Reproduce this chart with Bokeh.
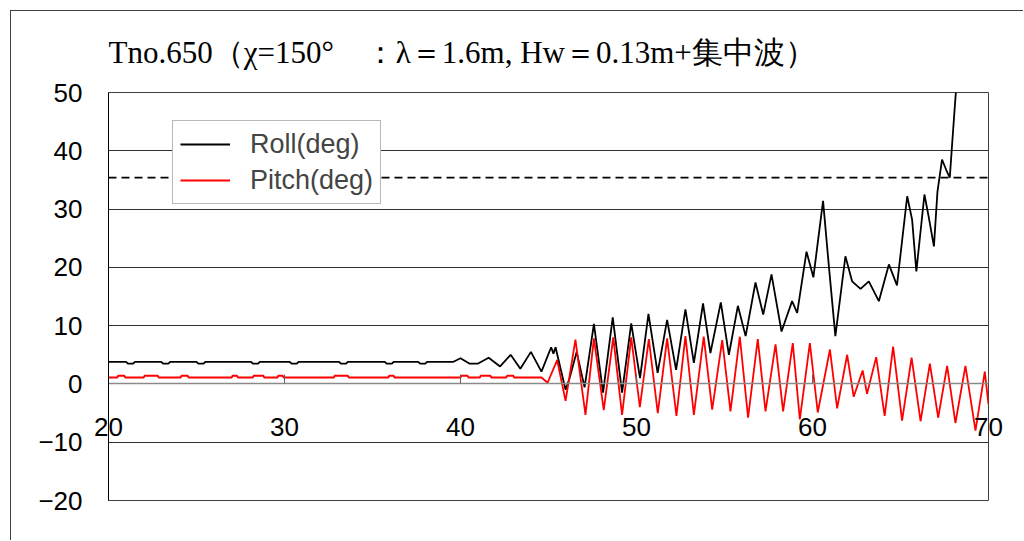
from bokeh.plotting import figure
from bokeh.models import Span, Range1d, FixedTicker, LinearAxis, Title
from bokeh.embed import file_html
from bokeh.resources import INLINE

# ---------------- data ----------------
title_text = "Tno.650（χ=150°　：λ＝1.6m, Hw＝0.13m+集中波）"
series_names = ["Roll(deg)", "Pitch(deg)"]
x_ticks = [20, 30, 40, 50, 60, 70]
y_ticks = [-20, -10, 0, 10, 20, 30, 40, 50]
y_tick_labels = ["−20", "−10", "0", "10", "20", "30", "40", "50"]
threshold = 35.4

roll_t = [20.0, 21.0, 21.1, 21.4, 21.5, 23.0, 23.1, 23.4, 23.5, 25.0, 25.1, 25.4, 25.5,
          28.1, 28.2, 28.5, 28.6, 30.3, 30.4, 30.7, 30.8, 33.1, 33.2, 33.5, 33.6,
          35.7, 35.8, 36.1, 36.2, 37.6, 37.7, 38.0, 38.1, 39.6,
          40.0, 40.5, 41.0, 41.6, 42.25, 42.85, 43.4, 44.0, 44.6, 45.15, 45.28, 45.4,
          45.97, 46.2, 46.6, 47.05, 47.58, 48.1, 48.65, 49.18, 49.7, 50.2, 50.68,
          51.2, 51.74, 52.25, 52.78, 53.26, 53.78, 54.2, 54.79, 55.25, 55.76, 56.2,
          56.76, 57.2, 57.67, 58.24, 58.84, 59.13, 59.66, 60.05, 60.6, 60.93, 61.3,
          61.87, 62.25, 62.73, 63.2, 63.77, 64.34, 64.8, 65.38, 65.66, 65.9, 66.36,
          66.6, 66.9, 67.1, 67.36, 67.6, 67.8, 67.93, 68.1, 68.3]
roll_v = [3.8, 3.8, 3.5, 3.5, 3.8, 3.8, 3.5, 3.5, 3.8, 3.8, 3.5, 3.5, 3.8,
          3.8, 3.5, 3.5, 3.8, 3.8, 3.5, 3.5, 3.8, 3.8, 3.5, 3.5, 3.8,
          3.8, 3.5, 3.5, 3.8, 3.8, 3.5, 3.5, 3.8, 3.8,
          4.4, 3.5, 3.5, 4.5, 3.0, 5.0, 2.6, 5.5, 2.1, 6.3, 5.2, 6.3,
          -1.0, 1.0, 5.5, -0.6, 10.3, -1.5, 11.4, -1.5, 10.4, 1.0, 12.0,
          1.9, 11.0, 2.4, 12.8, 3.6, 13.8, 5.3, 14.0, 5.0, 13.4, 8.2,
          17.4, 11.9, 18.8, 9.0, 14.2, 12.2, 22.7, 18.3, 31.4, 20.2, 8.2,
          21.9, 17.6, 16.3, 17.6, 14.2, 20.5, 16.9, 32.2, 28.2, 19.3, 32.5,
          28.7, 23.6, 33.0, 38.5, 36.7, 35.4, 41.0, 48.2, 56.0]

pitch_t = [20.0, 20.5, 20.55, 20.9, 20.95, 22.0, 22.05, 22.8, 22.85, 24.1, 24.15, 24.5, 24.55,
           27.0, 27.05, 27.3, 27.35, 28.2, 28.25, 28.8, 28.85, 29.6, 29.65, 29.9, 29.95,
           32.8, 32.85, 33.6, 33.65, 35.9, 35.95, 36.2, 36.25, 40.0, 40.05, 40.4, 40.45,
           41.1, 41.15, 41.7, 41.75, 42.6, 42.65, 43.0, 43.05, 44.6,
           44.95, 45.49, 45.97, 46.53, 47.1, 47.58, 48.14, 48.68, 49.18, 49.7, 50.19,
           50.7, 51.21, 51.74, 52.27, 52.78, 53.26, 53.82, 54.3, 54.87, 55.34, 55.87,
           56.34, 56.89, 57.33, 57.9, 58.33, 58.88, 59.28, 59.85, 60.3, 60.99, 61.4,
           61.97, 62.34, 62.85, 63.1, 63.62, 64.1, 64.58, 65.09, 65.63, 66.14, 66.67,
           67.14, 67.65, 68.12, 68.69, 69.26, 69.79, 70.0]
pitch_v = [1.1, 1.1, 1.4, 1.4, 1.1, 1.1, 1.4, 1.4, 1.1, 1.1, 1.4, 1.4, 1.1,
           1.1, 1.4, 1.4, 1.1, 1.1, 1.4, 1.4, 1.1, 1.1, 1.4, 1.4, 1.1,
           1.1, 1.4, 1.4, 1.1, 1.1, 1.4, 1.4, 1.1, 1.1, 1.4, 1.4, 1.1,
           1.1, 1.4, 1.4, 1.1, 1.1, 1.4, 1.4, 1.1, 1.1,
           0.2, 4.1, -2.9, 7.6, -5.3, 7.8, -4.5, 8.0, -5.3, 8.0, -4.0,
           7.7, -5.0, 7.8, -5.5, 8.2, -5.3, 8.1, -4.4, 7.5, -4.7, 8.1,
           -5.8, 7.7, -4.7, 6.8, -4.7, 7.0, -6.1, 7.0, -4.9, 5.9, -4.2,
           5.0, -2.2, 2.3, -1.7, 4.6, -5.5, 6.4, -6.3, 4.5, -6.4, 3.5,
           -5.8, 3.1, -6.7, 3.1, -8.0, 2.1, -3.5]

# ---------------- figure ----------------
p = figure(width=1013, height=530, x_range=Range1d(20, 70), y_range=Range1d(-20, 50),
           output_backend="svg", toolbar_location=None,
           min_border_left=97, min_border_right=36, min_border_top=81, min_border_bottom=41,
           background_fill_color="white", border_fill_color="white")
p.styles = {"border-left": "1px solid #404040", "border-top": "1px solid #404040",
            "margin-left": "10px", "margin-top": "10px"}

p.title = Title(text=title_text, text_font="Liberation Serif", text_font_size="31px",
                text_font_style="normal", text_color="black", align="left",
                vertical_align="top", offset=0, standoff=42)

p.outline_line_color = "#404040"
p.outline_line_width = 1

# grid
p.xgrid.visible = False
p.ygrid.ticker = FixedTicker(ticks=y_ticks)
p.ygrid.grid_line_color = "#303030"
p.ygrid.grid_line_width = 1

# y axis
p.yaxis.ticker = FixedTicker(ticks=y_ticks)
p.yaxis.major_label_overrides = {t: s for t, s in zip(y_ticks, y_tick_labels)}
p.yaxis.major_label_text_font = "Liberation Sans"
p.yaxis.major_label_text_font_size = "26px"
p.yaxis.major_label_text_color = "black"
p.yaxis.major_label_standoff = 26
p.yaxis.major_tick_out = 0
p.yaxis.major_tick_in = 0
p.yaxis.minor_tick_line_color = None
p.yaxis.axis_line_color = "black"

# x axis line crossing at y = 0 (line and ticks only)
p.xaxis.fixed_location = 0
p.xaxis.ticker = FixedTicker(ticks=x_ticks)
p.xaxis.major_label_text_alpha = 0
p.xaxis.major_label_text_font_size = "1px"
p.xaxis.major_tick_out = 0
p.xaxis.major_tick_in = 9
p.xaxis.major_tick_line_color = "#606060"
p.xaxis.minor_tick_line_color = None
p.xaxis.axis_line_color = "#8a8a8a"
p.xaxis.axis_line_width = 1.6

# x tick labels: a second axis below the frame, labels pulled up into the frame
lab_axis = LinearAxis(ticker=FixedTicker(ticks=x_ticks))
lab_axis.axis_line_color = None
lab_axis.major_tick_line_color = None
lab_axis.minor_tick_line_color = None
lab_axis.major_tick_out = 0
lab_axis.major_tick_in = 0
lab_axis.major_label_text_font = "Liberation Sans"
lab_axis.major_label_text_font_size = "26px"
lab_axis.major_label_text_color = "black"
lab_axis.major_label_standoff = -83
p.add_layout(lab_axis, "below")

# threshold dashed line
span = Span(location=threshold, dimension="width", line_color="black",
            line_dash="8 5", line_width=1.6, level="underlay")
p.add_layout(span)

p.line(roll_t, roll_v, line_color="black", line_width=1.8, legend_label=series_names[0])
p.line(pitch_t, pitch_v, line_color="#ff0000", line_width=1.8, legend_label=series_names[1])

lg = p.legend[0]
lg.location = (64, 296)
lg.label_text_font = "Liberation Sans"
lg.label_text_font_size = "27px"
lg.glyph_width = 50
lg.glyph_height = 32
lg.label_height = 32
lg.label_standoff = 20
lg.spacing = 4
lg.padding = 7
lg.margin = 0
lg.border_line_color = "#707070"
lg.border_line_width = 1
lg.background_fill_color = "white"
lg.background_fill_alpha = 1.0

open("out.html", "w").write(file_html(p, INLINE))
